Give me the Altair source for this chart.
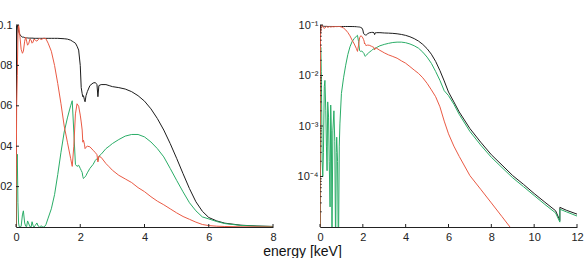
import altair as alt
import pandas as pd

# energy grid [keV] and the three curves
energy = [0.00, 0.02, 0.04, 0.06, 0.08, 0.10, 0.13, 0.16, 0.20, 0.23, 0.27, 0.30, 0.33, 0.36,
          0.40, 0.43, 0.47, 0.50, 0.53, 0.56, 0.60, 0.65, 0.69, 0.73, 0.76, 0.78, 0.82, 0.86,
          0.90, 0.93, 1.00, 1.10, 1.20, 1.30, 1.40, 1.50, 1.60, 1.70, 1.75, 1.80, 1.85, 1.90,
          1.95, 2.00, 2.03, 2.06, 2.08, 2.10, 2.13, 2.15, 2.18, 2.22, 2.30, 2.40, 2.47, 2.52,
          2.55, 2.58, 2.65, 2.80, 2.90, 3.00, 3.20, 3.40, 3.60, 3.80, 4.00, 4.20, 4.40, 4.60,
          4.80, 5.00, 5.20, 5.40, 5.60, 5.80, 6.00, 6.25, 6.50, 7.00, 7.50, 8.00, 8.50, 9.00, 9.50,
          10.00, 10.50, 11.00, 11.199, 11.201, 11.50, 12.00]

black = [1e-6, 0.090, 0.100, 0.099, 0.097, 0.096, 0.095, 0.0945, 0.094, 0.094, 0.0938, 0.0937, 0.0936, 0.0936,
         0.0935, 0.0935, 0.0935, 0.0935, 0.0935, 0.0934, 0.0934, 0.0934, 0.0934, 0.0934, 0.0934, 0.0934, 0.0934, 0.0934,
         0.0934, 0.0934, 0.0934, 0.0934, 0.0934, 0.0934, 0.0933, 0.0932, 0.0930, 0.0925, 0.0920, 0.0915, 0.0910, 0.0895,
         0.0876, 0.0800, 0.0690, 0.0660, 0.0645, 0.0650, 0.0630, 0.0620, 0.0650, 0.0670, 0.0700, 0.0713, 0.0715, 0.0705,
         0.0645, 0.0700, 0.0705, 0.0705, 0.0700, 0.0695, 0.0690, 0.0683, 0.0670, 0.0650, 0.0623, 0.0585, 0.0537, 0.0480,
         0.0413, 0.0340, 0.0264, 0.0190, 0.0125, 0.0078, 0.0047, 0.0030, 0.0019, 0.00089, 0.00048, 0.00027, 0.000168, 0.000104, 0.000070,
         0.000046, 0.000031, 0.000021, 0.0000135, 0.0000245, 0.0000215, 0.0000180]

red = [1e-6, 0.060, 0.075, 0.095, 0.100, 0.098, 0.093, 0.088, 0.086, 0.087, 0.092, 0.094, 0.092, 0.090,
       0.091, 0.093, 0.0925, 0.091, 0.0915, 0.093, 0.0925, 0.092, 0.0928, 0.0933, 0.093, 0.0928, 0.0931, 0.0934,
       0.0934, 0.0932, 0.091, 0.087, 0.080, 0.071, 0.061, 0.050, 0.042, 0.034, 0.030, 0.040, 0.056, 0.061,
       0.0598, 0.0554, 0.052, 0.048, 0.042, 0.043, 0.041, 0.0388, 0.0395, 0.0400, 0.0397, 0.0380, 0.0368, 0.0358,
       0.0322, 0.0350, 0.0345, 0.0314, 0.0298, 0.0281, 0.0256, 0.0238, 0.0220, 0.0195, 0.0175, 0.0150, 0.0128, 0.0110,
       0.0090, 0.0070, 0.0052, 0.0038, 0.0024, 0.00125, 0.0007, 0.00040, 0.00025, 0.000104, 0.000056, 0.000030, 0.000016, 0.0000085, 0.0000045,
       0.0000025, 0.0000013, 0.0000007, 0.0000005, 0.0000005, 0.0000004, 0.0000003]

green = [1e-7, 0.030, 0.036, 0.012, 0.002, 0.0002, 0.0001, 0.0003, 0.006, 0.008, 0.002, 0.0004, 0.00013, 0.003,
         0.0015, 0.0002, 0.000025, 0.0026, 0.0008, 0.000005, 0.0008, 0.002, 0.0005, 0.000003, 0.0003, 0.0006, 0.0002, 0.000002,
         0.0004, 0.0011, 0.0044, 0.009, 0.016, 0.026, 0.037, 0.047, 0.054, 0.060, 0.0625, 0.047, 0.031, 0.030,
         0.0306, 0.029, 0.028, 0.027, 0.025, 0.024, 0.0245, 0.0248, 0.0255, 0.0268, 0.029, 0.031, 0.0330, 0.0338,
         0.0330, 0.0350, 0.0360, 0.0388, 0.0400, 0.0413, 0.0433, 0.0450, 0.0458, 0.0458, 0.0446, 0.0421, 0.0388, 0.0347,
         0.0290, 0.0231, 0.0174, 0.0120, 0.0080, 0.0050, 0.0040, 0.0027, 0.0017, 0.00078, 0.00042, 0.00024, 0.000150, 0.000094, 0.000063,
         0.000042, 0.000028, 0.000019, 0.0000125, 0.0000225, 0.000020, 0.0000165]

series_names = ["black", "green", "red"]
series_colors = ["#1c1c1c", "#2aad67", "#ea5a44"]

lin_y_ticks = [0.02, 0.04, 0.06, 0.08, 0.1]
lin_x_ticks = [0, 2, 4, 6, 8]
log_x_ticks = [0, 2, 4, 6, 8, 10, 12]
log_y_ticks = [1e-4, 1e-3, 1e-2, 1e-1]
log_minor = [m * 10.0 ** k for k in (-5, -4, -3, -2) for m in range(2, 10)]

rows = []
for name, vals in zip(series_names, [black, green, red]):
    for i, (e, v) in enumerate(zip(energy, vals)):
        rows.append({"E": e, "v": v, "s": name, "o": i})
df = pd.DataFrame(rows)

W, H = 257, 202
FONT = "Liberation Sans"
AX = "#222222"

color = alt.Color("s:N", scale=alt.Scale(domain=series_names, range=series_colors), legend=None)

# ---- left: linear panel ----
left_lines = alt.Chart(df[df["E"] <= 8]).mark_line(strokeWidth=1, clip=True).encode(
    x=alt.X("E:Q", scale=alt.Scale(domain=[0, 8], nice=False),
            axis=alt.Axis(values=lin_x_ticks, title=None, labelFlush=False)),
    y=alt.Y("v:Q", scale=alt.Scale(domain=[0, 0.1], nice=False),
            axis=alt.Axis(values=lin_y_ticks, format="~g", title=None)),
    color=color,
    detail="s:N",
    order="o:Q",
)
left_xt = alt.Chart(pd.DataFrame({"t": lin_x_ticks})).mark_rule(color=AX, strokeWidth=1).encode(
    x="t:Q", y=alt.value(H), y2=alt.value(H - 3))
left_yt = alt.Chart(pd.DataFrame({"t": lin_y_ticks})).mark_rule(color=AX, strokeWidth=1).encode(
    y="t:Q", x=alt.value(0), x2=alt.value(3))
left = alt.layer(left_lines, left_xt, left_yt).properties(width=W, height=H)

# ---- right: log panel ----
label_expr = ("datum.value > 0.05 ? '10\u207b\u00b9' : datum.value > 0.005 ? '10\u207b\u00b2' : "
              "datum.value > 0.0005 ? '10\u207b\u00b3' : '10\u207b\u2074'")
right_lines = alt.Chart(df).mark_line(strokeWidth=1, clip=True).encode(
    x=alt.X("E:Q", scale=alt.Scale(domain=[0, 12], nice=False),
            axis=alt.Axis(values=log_x_ticks, title="energy [keV]", labelFlush=False,
                          titleX=-18, titleY=28, titleAnchor="start", titleAlign="center",
                          titleBaseline="alphabetic")),
    y=alt.Y("v:Q", scale=alt.Scale(type="log", domain=[1e-5, 0.1], nice=False),
            axis=alt.Axis(values=log_y_ticks, title=None, labelExpr=label_expr, labelPadding=2)),
    color=color,
    detail="s:N",
    order="o:Q",
)
right_xt = alt.Chart(pd.DataFrame({"t": log_x_ticks})).mark_rule(color=AX, strokeWidth=1).encode(
    x="t:Q", y=alt.value(H), y2=alt.value(H - 3))
right_yt = alt.Chart(pd.DataFrame({"t": log_y_ticks})).mark_rule(color=AX, strokeWidth=1).encode(
    y=alt.Y("t:Q", scale=alt.Scale(type="log", domain=[1e-5, 0.1], nice=False)),
    x=alt.value(0), x2=alt.value(3))
right_ym = alt.Chart(pd.DataFrame({"t": log_minor})).mark_rule(color=AX, strokeWidth=1, opacity=0.7).encode(
    y=alt.Y("t:Q", scale=alt.Scale(type="log", domain=[1e-5, 0.1], nice=False)),
    x=alt.value(0), x2=alt.value(2))
right = alt.layer(right_lines, right_xt, right_yt, right_ym).properties(width=W, height=H)

chart = alt.hconcat(left, right, spacing=47, bounds="flush").properties(
    padding={"left": -10, "top": 19, "right": 0, "bottom": 0}
).configure_view(stroke=None).configure_axis(
    grid=False, tickSize=0, labelPadding=4, labelFont=FONT, labelFontSize=11, labelColor=AX,
    domainColor=AX, domainWidth=1, titleFont=FONT, titleFontSize=14, titleFontWeight="normal",
    titleColor="#111111", labelOverlap=False,
)

chart.save("out.html", embed_options={"renderer": "svg", "actions": False})
